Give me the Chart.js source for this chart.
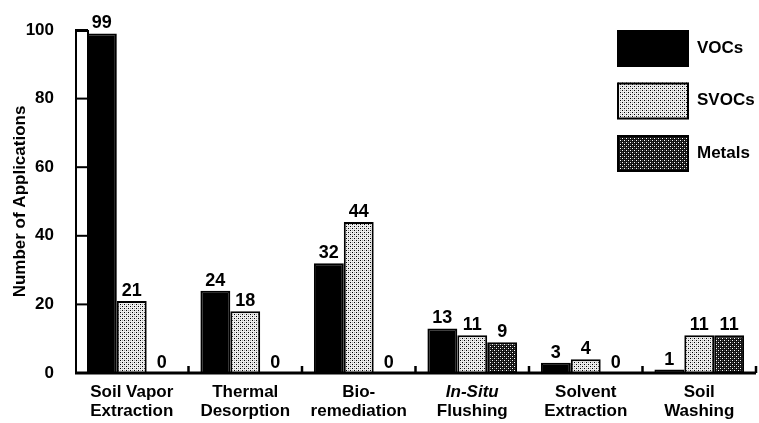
<!DOCTYPE html>
<html lang="en">
<head>
<meta charset="UTF-8">
<title>Number of Applications by Technology</title>
<script src="https://cdn.jsdelivr.net/npm/chart.js"></script>
<style>
    html, body { margin: 0; padding: 0; background: #fff; }
    #wrap { width: 759px; height: 423px; }
</style>
</head>
<body>
<div id="wrap"><canvas id="chart"></canvas></div>
<script>
// data
const categories = [
    ['Soil Vapor', 'Extraction'],
    ['Thermal', 'Desorption'],
    ['Bio-', 'remediation'],
    ['In-Situ', 'Flushing'],
    ['Solvent', 'Extraction'],
    ['Soil', 'Washing']
];
const italicLines = ['In-Situ'];
const seriesNames = ['VOCs', 'SVOCs', 'Metals'];
const vocs = [99, 24, 32, 13, 3, 1];
const svocs = [21, 18, 44, 11, 4, 11];
const metals = [0, 0, 0, 9, 0, 11];
const yTicks = [0, 20, 40, 60, 80, 100];

const FONT = '"Liberation Sans", Arial, Helvetica, sans-serif';

// halftone fills like the printed figure
function makePattern(bg, dots, size) {
    const c = document.createElement('canvas');
    c.width = c.height = size;
    const g = c.getContext('2d');
    g.fillStyle = bg;
    g.fillRect(0, 0, size, size);
    dots.forEach(d => {
        g.fillStyle = d[2];
        g.fillRect(d[0], d[1], 1, 1);
    });
    return g.createPattern(c, 'repeat');
}
const lightDots = makePattern('#eeeeee', [[0, 0, '#000'], [2, 2, '#000'], [2, 0, '#aaa'], [0, 2, '#aaa']], 4);
const darkDots = makePattern('#111', [[0, 0, '#fff'], [2, 2, '#fff'], [2, 0, '#555'], [0, 2, '#555']], 4);
const fills = ['#000', lightDots, darkDots];

function line(ctx, x1, y1, x2, y2) {
    ctx.beginPath();
    ctx.moveTo(x1, y1);
    ctx.lineTo(x2, y2);
    ctx.stroke();
}

const decorations = {
    id: 'decorations',
    afterDatasetsDraw(chart) {
        const { ctx, chartArea: a, scales: { x, y } } = chart;
        ctx.save();

        // value labels over every bar
        ctx.font = 'bold 18px ' + FONT;
        ctx.fillStyle = '#000';
        ctx.textAlign = 'center';
        ctx.textBaseline = 'alphabetic';
        chart.data.datasets.forEach((ds, i) => {
            chart.getDatasetMeta(i).data.forEach((bar, j) => {
                ctx.fillText(String(ds.data[j]), bar.x, bar.y - 5);
            });
        });

        // hollow y axis bar with inner ticks
        const rectW = 13;
        ctx.fillStyle = '#fff';
        ctx.fillRect(a.left, a.top, rectW, a.bottom - a.top);
        ctx.strokeStyle = '#000';
        ctx.lineWidth = 2;
        ctx.strokeRect(a.left + 1, a.top + 1, rectW - 1, a.bottom - a.top - 1);
        yTicks.forEach(v => {
            const py = y.getPixelForValue(v);
            line(ctx, a.left, py, a.left + rectW, py);
        });

        // x axis line and group separators
        ctx.lineWidth = 3;
        line(ctx, a.left, a.bottom, a.right, a.bottom);
        const half = (x.getPixelForValue(1) - x.getPixelForValue(0)) / 2;
        ctx.lineWidth = 2.5;
        categories.forEach((c, i) => {
            const bx = x.getPixelForValue(i) + half;
            line(ctx, bx, a.bottom, bx, a.bottom - 7);
        });

        // category labels (two lines, one italic)
        ctx.fillStyle = '#000';
        ctx.textBaseline = 'middle';
        categories.forEach((lines, i) => {
            const cx = x.getPixelForValue(i);
            lines.forEach((t, k) => {
                ctx.font = (italicLines.includes(t) ? 'italic ' : '') + 'bold 17px ' + FONT;
                ctx.fillText(t, cx, a.bottom + 19 + k * 19);
            });
        });

        // legend, top right
        ctx.textAlign = 'left';
        ctx.font = 'bold 17px ' + FONT;
        seriesNames.forEach((name, k) => {
            const by = 30 + k * 52.5;
            ctx.fillStyle = fills[k];
            ctx.fillRect(617, by, 72, 37);
            ctx.lineWidth = 2;
            ctx.strokeStyle = '#000';
            ctx.strokeRect(618, by + 1, 70, 35);
            ctx.fillStyle = '#000';
            ctx.fillText(name, 697, by + 18);
        });

        ctx.restore();
    }
};

new Chart(document.getElementById('chart').getContext('2d'), {
    type: 'bar',
    data: {
        labels: categories.map(c => c.join(' ')),
        datasets: [vocs, svocs, metals].map((d, i) => ({
            label: seriesNames[i],
            data: d,
            backgroundColor: fills[i],
            borderColor: '#000',
            borderWidth: 2,
            borderSkipped: 'bottom',
            categoryPercentage: 0.79,
            barPercentage: 1
        }))
    },
    options: {
        responsive: true,
        maintainAspectRatio: false,
        animation: false,
        layout: { padding: { top: 30, right: 3, left: 0, bottom: 0 } },
        plugins: {
            legend: { display: false },
            tooltip: { enabled: false }
        },
        scales: {
            x: {
                grid: { display: false },
                border: { display: false },
                ticks: { display: false },
                afterFit: s => { s.height = 50; }
            },
            y: {
                min: 0,
                max: 100,
                afterFit: s => { s.width = 75; },
                grid: { display: false },
                border: { display: false },
                ticks: {
                    stepSize: 20,
                    padding: 13,
                    color: '#000',
                    font: { family: FONT, size: 17, weight: 'bold' }
                },
                title: {
                    display: true,
                    text: 'Number of Applications',
                    color: '#000',
                    padding: { top: 10, bottom: 0 },
                    font: { family: FONT, size: 17, weight: 'bold' }
                }
            }
        }
    },
    plugins: [decorations]
});
</script>
</body>
</html>
